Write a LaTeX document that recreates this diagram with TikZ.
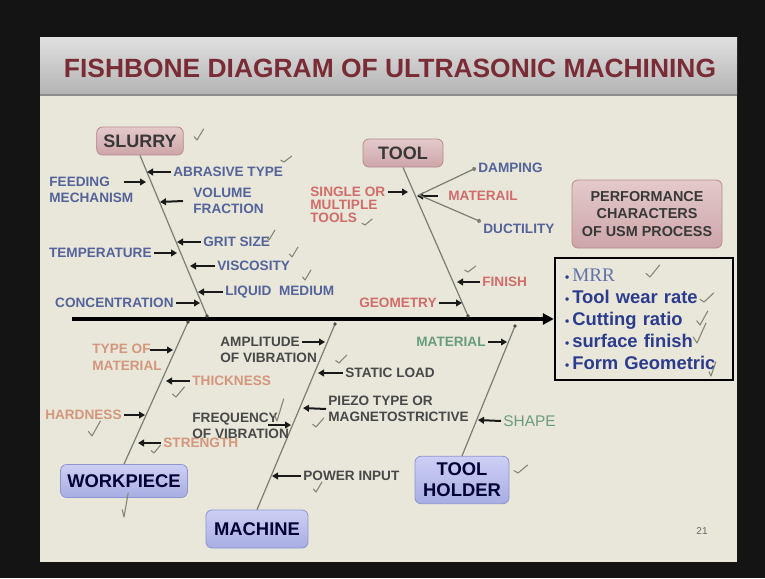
\documentclass[tikz,border=0pt]{standalone}
\usepackage{fontspec}
\setmainfont{Liberation Sans}
\newfontfamily\mrrfont{Liberation Serif}
\usetikzlibrary{arrows.meta}

\definecolor{slidebg}{HTML}{E8E7DA}
\definecolor{titlec}{HTML}{7A2C36}
\definecolor{slurryc}{HTML}{55639A}
\definecolor{toolc}{HTML}{D26C6A}
\definecolor{wpc}{HTML}{D4967C}
\definecolor{machc}{HTML}{484848}
\definecolor{thc}{HTML}{6A9C7C}
\definecolor{resc}{HTML}{2C3B8E}
\definecolor{mrrc}{HTML}{6272A8}
\definecolor{bonec}{HTML}{7C7C74}
\definecolor{chkc}{HTML}{868676}
\definecolor{pinktop}{HTML}{E4CACB}
\definecolor{pinkbot}{HTML}{CDA5A9}
\definecolor{pinkline}{HTML}{B88A8F}
\definecolor{bluetop}{HTML}{CDD0F4}
\definecolor{bluebot}{HTML}{A7ADE3}
\definecolor{blueline}{HTML}{8D94D0}

\tikzset{
  lbl/.style={font=\fontsize{6.8}{8.3}\selectfont\bfseries, inner sep=1pt, align=left},
  cause/.style={-{Triangle[length=3pt,width=3.4pt]}, line width=1pt, draw=black!90},
  bone/.style={draw=bonec, line width=0.6pt},
  spine/.style={-{Triangle[length=5.5pt,width=5.5pt]}, line width=2pt},
  pinkbox/.style={draw=pinkline, rounded corners=3pt, top color=pinktop, bottom color=pinkbot,
    text=black!78, font=\fontsize{9}{10}\selectfont\bfseries, align=center},
  bluebox/.style={draw=blueline, rounded corners=3pt, top color=bluetop, bottom color=bluebot,
    text=black!80!blue, font=\fontsize{9.2}{10.5}\selectfont\bfseries, align=center},
  chkline/.style={draw=chkc, line width=0.55pt, line cap=round, line join=round},
  chk/.pic={\draw[chkline] (-2.5,-3) -- (0,0) -- (6,-10);}
}
\newcommand{\bul}{{\fontsize{6}{6}\selectfont\textbullet}\,}

\begin{document}
\begin{tikzpicture}[x=0.5pt,y=-0.5pt]
  % slide
  \fill[black!92] (0,0) rectangle (765,578);
  \useasboundingbox (0,0) rectangle (765,578);
  \fill[slidebg] (40,95) rectangle (737,562);
  \shade[top color=black!12, bottom color=black!30] (40,37) rectangle (737,95);
  \draw[black!45, line width=0.8pt] (40,95) -- (737,95);
  \node[text=titlec, font=\fontsize{13.2}{14}\selectfont\bfseries] (title) at (390,68) {FISHBONE DIAGRAM OF ULTRASONIC MACHINING};

  % heads
  \node[pinkbox, minimum width=40pt, minimum height=14pt] (slurry) at (140,141) {SLURRY};
  \node[pinkbox, minimum width=40pt, minimum height=14pt] (tool) at (403,153) {TOOL};
  \node[bluebox, minimum width=62pt, minimum height=16.5pt] (wp) at (124,481) {WORKPIECE};
  \node[bluebox, minimum width=51pt, minimum height=19pt] (machine) at (257,529) {MACHINE};
  \node[bluebox, minimum width=47pt, minimum height=23pt] (holder) at (462,480) {TOOL\\HOLDER};
  \node[pinkbox, minimum width=75pt, minimum height=34pt, font=\fontsize{7.2}{8.7}\selectfont\bfseries] (perf) at (647,214) {PERFORMANCE\\CHARACTERS\\OF USM PROCESS};
  \node[draw, line width=1.2pt, minimum width=89pt, minimum height=61pt, text width=79pt,
    inner xsep=5pt, align=left, text=resc, font=\fontsize{9.2}{11}\selectfont\bfseries] (res) at (644,319)
    {\bul{\color{mrrc}\mrrfont\mdseries\fontsize{9.6}{11}\selectfont MRR}\\
     \bul Tool wear rate\\
     \bul Cutting ratio\\
     \bul surface finish\\
     \bul Form Geometric};

  % bones
  \coordinate (sJ) at (207,316);
  \coordinate (tJ) at (468,316);
  \coordinate (wJ) at (188,322);
  \coordinate (mJ) at (335,324);
  \coordinate (hJ) at (515,326);
  \coordinate (spL) at (72,319);
  \draw[bone] (slurry.south) -- (sJ);
  \draw[bone] (tool.south) -- (tJ);
  \draw[bone] (wp.north) -- (wJ);
  \draw[bone] (machine.north) -- (mJ);
  \draw[bone] (holder.north) -- (hJ);
  \draw[spine] (spL) -- (res.west);
  \foreach \j in {sJ,tJ,wJ,mJ,hJ}
    \fill[black!70] (\j) circle[radius=0.9pt];

  % slurry causes
  \node[lbl, text=slurryc, anchor=west] (abr) at (171,172) {ABRASIVE TYPE};
  \node[lbl, text=slurryc, anchor=west] (feed) at (47,190) {FEEDING\\MECHANISM};
  \node[lbl, text=slurryc, anchor=west] (vol) at (191,201) {VOLUME\\FRACTION};
  \node[lbl, text=slurryc, anchor=west] (grit) at (201,242) {GRIT SIZE};
  \node[lbl, text=slurryc, anchor=east] (temp) at (154,253) {TEMPERATURE};
  \node[lbl, text=slurryc, anchor=west] (visc) at (215,266) {VISCOSITY};
  \node[lbl, text=slurryc, anchor=west] (liq) at (223,292) {LIQUID\ \ MEDIUM};
  \node[lbl, text=slurryc, anchor=east] (conc) at (176,303) {CONCENTRATION};
  \coordinate (feedS) at (124,182);
  \draw[cause] (abr.west) -- (147,172);
  \draw[cause] (feedS) -- (146,182);
  \draw[cause] ([xshift=-4pt]vol.west) -- (160,202);
  \draw[cause] (grit.west) -- (177,242);
  \draw[cause] (temp.east) -- (177,253);
  \draw[cause] (visc.west) -- (190,266);
  \draw[cause] (liq.west) -- (198,292);
  \draw[cause] (conc.east) -- (200,303);

  % tool causes
  \node[lbl, text=toolc, anchor=west, font=\fontsize{6.8}{6.5}\selectfont\bfseries] (single) at (308,205) {SINGLE OR\\MULTIPLE\\TOOLS};
  \node[lbl, text=toolc, anchor=west] (materail) at (446,196) {MATERAIL};
  \node[lbl, text=slurryc, anchor=west] (damp) at (476,168) {DAMPING};
  \node[lbl, text=slurryc, anchor=west] (duct) at (481,229) {DUCTILITY};
  \node[lbl, text=toolc, anchor=west] (finish) at (480,282) {FINISH};
  \node[lbl, text=toolc, anchor=east] (geom) at (439,303) {GEOMETRY};
  \coordinate (singB) at (408,192);
  \coordinate (tK) at (419,195);
  \draw[cause] (single.east |- singB) -- (singB);
  \draw[cause] ([xshift=-4pt]materail.west) -- (417,196);
  \draw[bonec, line width=0.6pt, -{Circle[length=2.2pt]}] (tK) -- (damp.west);
  \draw[bonec, line width=0.6pt, -{Circle[length=2.2pt]}] (tK) -- (duct.north west);
  \draw[cause] (finish.west) -- (457,282);
  \draw[cause] (geom.east) -- (462,303);

  % workpiece causes
  \node[lbl, text=wpc, anchor=west] (type) at (90,357) {TYPE OF\\MATERIAL};
  \node[lbl, text=wpc, anchor=west] (thick) at (190,381) {THICKNESS};
  \node[lbl, text=wpc, anchor=east] (hard) at (124,415) {HARDNESS};
  \node[lbl, text=wpc, anchor=west] (streng) at (161,443) {STRENGTH};
  \coordinate (typeS) at (150,350);
  \draw[cause] (typeS) -- (173,350);
  \draw[cause] (thick.west) -- (166,381);
  \draw[cause] (hard.east) -- (145,415);
  \draw[cause] (streng.west) -- (138,443);

  % machine causes
  \node[lbl, text=machc, anchor=west] (amp) at (218,350) {AMPLITUDE\\OF VIBRATION};
  \node[lbl, text=machc, anchor=west] (static) at (343,373) {STATIC\ LOAD};
  \node[lbl, text=machc, anchor=west] (piezo) at (326,409) {PIEZO TYPE OR\\MAGNETOSTRICTIVE};
  \node[lbl, text=machc, anchor=west] (freq) at (190,426) {FREQUENCY\\OF VIBRATION};
  \node[lbl, text=machc, anchor=west] (power) at (301,476) {POWER INPUT};
  \coordinate (ampS) at (302,342);
  \coordinate (freqS) at (268,425);
  \draw[cause] (ampS) -- (325,342);
  \draw[cause] (static.west) -- (318,373);
  \draw[cause] (piezo.west) -- (303,408);
  \draw[cause] (freqS) -- (291,425);
  \draw[cause] (power.west) -- (272,476);

  % tool holder causes
  \node[lbl, text=thc, anchor=east] (thmat) at (488,342) {MATERIAL};
  \node[lbl, text=thc, anchor=west, font=\fontsize{7.7}{9}\selectfont] (shape) at (501,421) {SHAPE};
  \draw[cause] (thmat.east) -- (507,342);
  \draw[cause] (shape.west) -- (478,420);

  \node[text=black!60, font=\fontsize{5}{6}\selectfont] (pageno) at (702,531) {21};

  % ticks
  \pic[scale=1.1] at (197,140) {chk};
  \pic[xscale=1.3,yscale=0.6] at (284,162) {chk};
  \pic at (269,240) {chk};
  \pic at (292,257) {chk};
  \pic at (305,280) {chk};
  \pic[xscale=1.2,yscale=0.6] at (365,225) {chk};
  \pic[xscale=1.3,yscale=0.6] at (468,272) {chk};
  \pic[xscale=1.6,yscale=1.2] at (650,277) {chk};
  \pic[xscale=1.6,yscale=0.9] at (704,302) {chk};
  \pic[xscale=1.3,yscale=1.4] at (700,325) {chk};
  \pic[xscale=1.5,yscale=2] at (697,343) {chk};
  \pic[xscale=0.8,yscale=1.4] at (711,376) {chk};
  \pic[xscale=0.7,yscale=2.4] at (124,517) {chk};
  \pic[xscale=1.4,yscale=1.0] at (176,397) {chk};
  \pic[xscale=1.4,yscale=1.5] at (92,436) {chk};
  \pic[xscale=1.1,yscale=0.8] at (154,453) {chk};
  \pic[xscale=1.1,yscale=2.2] at (277,421) {chk};
  \pic[xscale=1.3,yscale=0.8] at (339,363) {chk};
  \pic[xscale=1.3,yscale=0.9] at (316,427) {chk};
  \pic[xscale=1.0,yscale=1.0] at (316,492) {chk};
  \pic[xscale=1.6,yscale=0.8] at (518,473) {chk};
\end{tikzpicture}
\end{document}
